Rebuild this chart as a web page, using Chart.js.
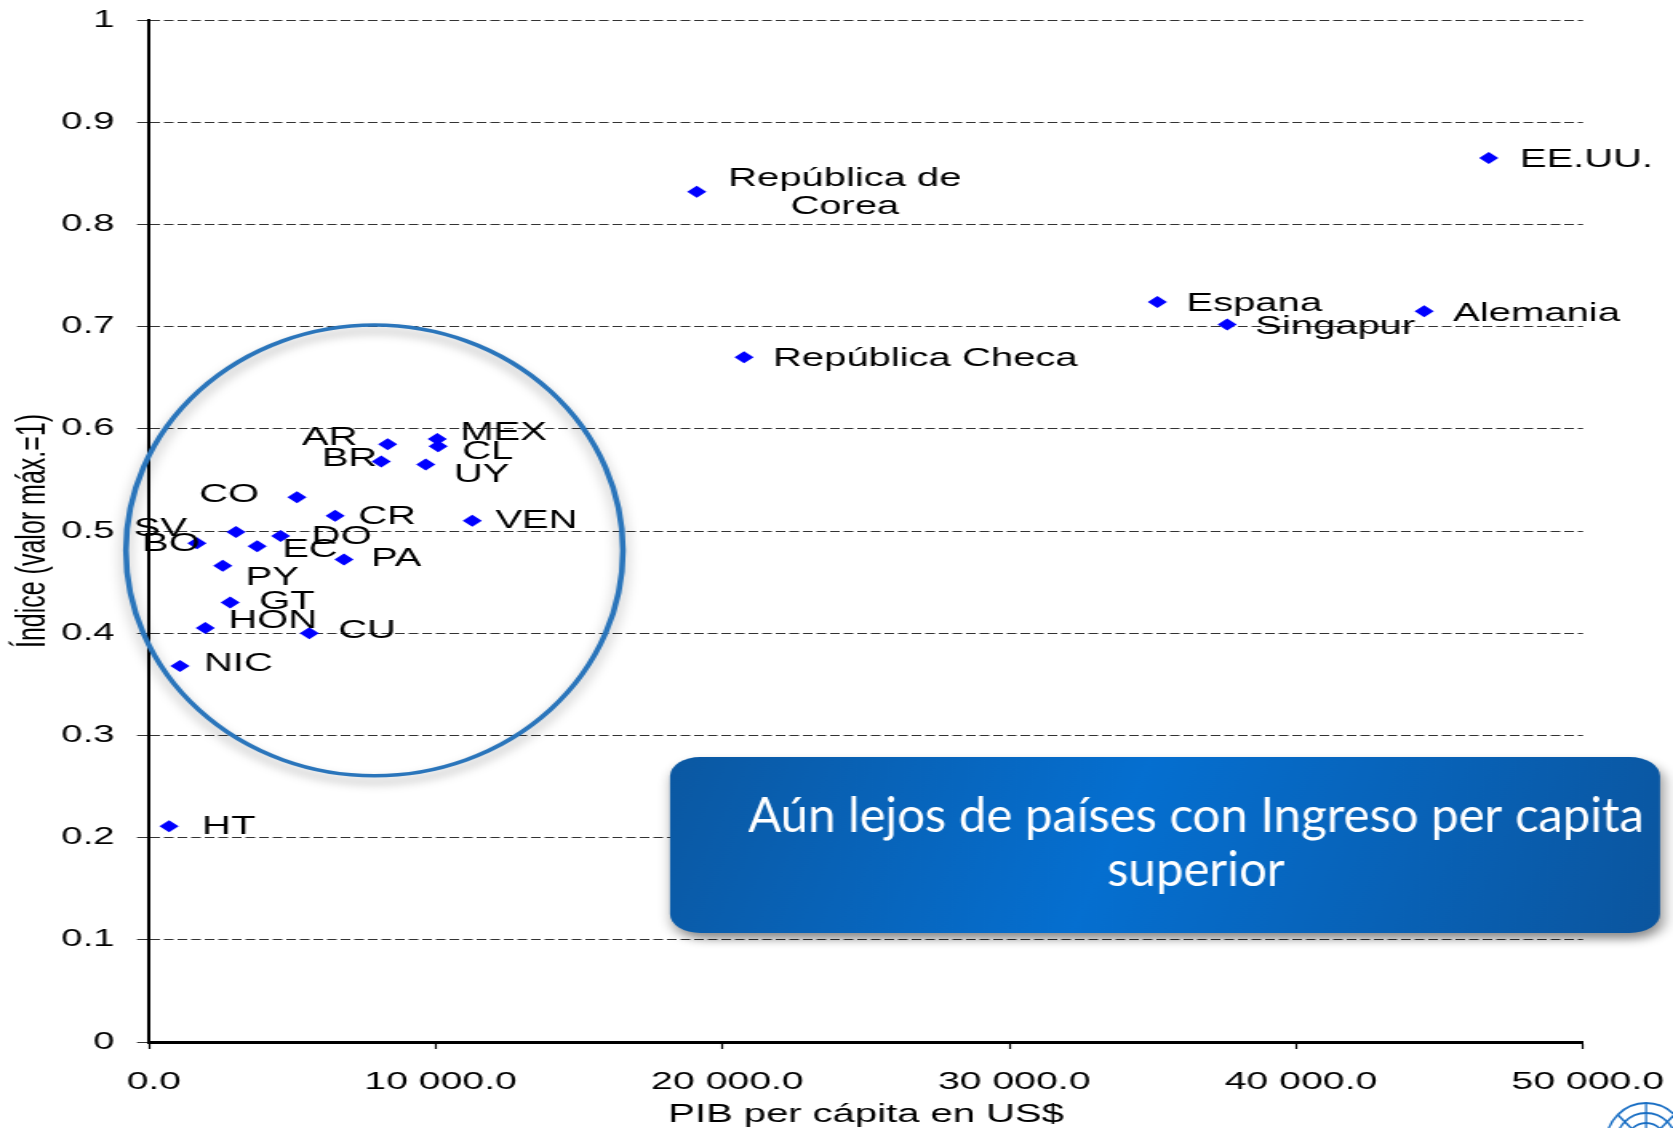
<!DOCTYPE html>
<html>
<head>
<meta charset="utf-8">
<script src="https://cdn.jsdelivr.net/npm/chart.js@4.4.1/dist/chart.umd.min.js"></script>
<style>
html,body{margin:0;padding:0;background:#fff;overflow:hidden}
</style>
</head>
<body>
<canvas id="c" width="1046" height="1128" style="display:block;width:1673px;height:1128px"></canvas>
<script>
// ---------------- DATA ----------------
const countries = ['EE.UU.','República de Corea','Espana','Singapur','Alemania','República Checa',
  'MEX','CL','AR','BR','UY','CO','CR','VEN','SV','DO','BO','EC','PA','PY','GT','HON','CU','NIC','HT'];
const pibPerCapita = [46715,19100,35160,37594,44463,20746,
  10050,10080,8320,8100,9650,5160,6490,11270,3030,4590,1670,3770,6800,2570,2830,1960,5590,1080,700];
const indice = [0.865,0.832,0.724,0.702,0.715,0.670,
  0.590,0.583,0.585,0.568,0.565,0.533,0.515,0.510,0.499,0.495,0.488,0.485,0.472,0.466,0.430,0.405,0.400,0.368,0.211];
const xTickLabels = ['0.0','10 000.0','20 000.0','30 000.0','40 000.0','50 000.0'];
const yTickLabels = ['0','0.1','0.2','0.3','0.4','0.5','0.6','0.7','0.8','0.9','1'];
const xAxisTitle = 'PIB per cápita en US$';
const yAxisTitle = 'Índice (valor máx.=1)';
const calloutLines = ['Aún lejos de países con Ingreso per capita','superior'];

// ---------------- LAYOUT / STYLE ----------------
const S = 1673 / 1046; // horizontal stretch of the picture
const FONT = '"Liberation Sans", Arial, sans-serif';

// label placement: align, dx (screen px), dy (px)
const labelPlacement = {
  'EE.UU.': ['left', 31, 2],
  'República de Corea': ['center', 148, -13, ['República de','Corea'], 28],
  'Espana': ['left', 29, 2],
  'Singapur': ['left', 28, 3],
  'Alemania': ['left', 29, 3],
  'República Checa': ['left', 29, 2],
  'MEX': ['left', 23, -6],
  'CL': ['left', 24, 6],
  'AR': ['right', -30, -6],
  'BR': ['right', -4, -2],
  'UY': ['left', 28, 11],
  'CO': ['right', -38, -2],
  'CR': ['left', 23, 1],
  'VEN': ['left', 23, 0],
  'SV': ['right', -49, -3],
  'DO': ['left', 31, 1],
  'BO': ['right', 3, 1],
  'EC': ['left', 25, 4],
  'PA': ['left', 27, -1],
  'PY': ['left', 23, 12],
  'GT': ['left', 29, 0],
  'HON': ['left', 23, -7],
  'CU': ['left', 29, -2],
  'NIC': ['left', 24, -2],
  'HT': ['left', 33, 1]
};

const pointLabels = {
  id: 'pointLabels',
  afterDatasetsDraw(chart) {
    const ctx = chart.ctx;
    const meta = chart.getDatasetMeta(0);
    ctx.save();
    ctx.font = '25px ' + FONT;
    ctx.fillStyle = '#000';
    ctx.textBaseline = 'middle';
    meta.data.forEach((pt, i) => {
      const name = countries[i];
      const p = labelPlacement[name];
      const lines = p[3] || [name];
      ctx.textAlign = p[0];
      lines.forEach((ln, k) => ctx.fillText(ln, pt.x + p[1] / S, pt.y + p[2] + k * (p[4] || 0)));
    });
    ctx.restore();
  }
};

const highlightEllipse = {
  id: 'highlightEllipse',
  beforeDatasetsDraw(chart) {
    const ctx = chart.ctx, xs = chart.scales.x, ys = chart.scales.y;
    const c = {x: 7860, y: 0.481}, r = {x: 8665, y: 0.2205};
    const cx = xs.getPixelForValue(c.x), cy = ys.getPixelForValue(c.y);
    const rx = Math.abs(xs.getPixelForValue(c.x + r.x) - cx);
    const ry = Math.abs(ys.getPixelForValue(c.y + r.y) - cy);
    ctx.save();
    ctx.shadowColor = 'rgba(0,0,0,0.35)';
    ctx.shadowBlur = 10;
    ctx.shadowOffsetY = 6;
    ctx.lineWidth = 3.6;
    ctx.strokeStyle = '#2a75bb';
    ctx.beginPath();
    ctx.ellipse(cx, cy, rx, ry, 0, 0, Math.PI * 2);
    ctx.stroke();
    ctx.restore();
  }
};

const callout = {
  id: 'callout',
  afterDraw(chart) {
    const ctx = chart.ctx;
    const x1 = 670 / S, x2 = 1660 / S, y1 = 757, y2 = 933;
    ctx.save();
    const g = ctx.createLinearGradient(x1, y1, x2, y2);
    g.addColorStop(0, '#0b58a2');
    g.addColorStop(0.45, '#056fd0');
    g.addColorStop(1, '#0b559e');
    ctx.shadowColor = 'rgba(0,0,0,0.45)';
    ctx.shadowBlur = 10;
    ctx.shadowOffsetX = 2;
    ctx.shadowOffsetY = 6;
    ctx.fillStyle = g;
    ctx.beginPath();
    ctx.roundRect(x1, y1, x2 - x1, y2 - y1, 19);
    ctx.fill();
    ctx.restore();

    ctx.save();
    ctx.font = '48px Lato, "Open Sans", sans-serif';
    ctx.fillStyle = '#fff';
    ctx.textAlign = 'center';
    ctx.textBaseline = 'alphabetic';
    const w = ctx.measureText(calloutLines[0]).width;
    const k = (896 / S) / w;
    const cx = 1196 / S;
    ctx.translate(cx, 0);
    ctx.scale(k, 1);
    ctx.fillText(calloutLines[0], 0, 832);
    ctx.fillText(calloutLines[1], 0, 886);
    ctx.restore();

    // emblem (bottom-right corner, partly cut)
    ctx.save();
    ctx.scale(1 / S, 1);
    ctx.strokeStyle = '#1a6fc4';
    ctx.lineWidth = 2;
    const ex = 1646, ey = 1143;
    [40, 30, 20, 10].forEach(rr => { ctx.beginPath(); ctx.arc(ex, ey, rr, 0, Math.PI * 2); ctx.stroke(); });
    for (let a = 0; a < 8; a++) {
      const t = a * Math.PI / 4;
      ctx.beginPath(); ctx.moveTo(ex, ey); ctx.lineTo(ex + 40 * Math.cos(t), ey + 40 * Math.sin(t)); ctx.stroke();
    }
    ctx.restore();
  }
};

new Chart(document.getElementById('c'), {
  type: 'scatter',
  data: {
    datasets: [{
      data: pibPerCapita.map((v, i) => ({x: v, y: indice[i]})),
      pointStyle: 'rectRot',
      pointRadius: 6,
      pointHoverRadius: 6,
      backgroundColor: '#0000ff',
      borderWidth: 0
    }]
  },
  options: {
    responsive: false,
    devicePixelRatio: 1,
    animation: false,
    events: [],
    layout: {padding: {top: 20, right: 1046 - 1583 / S, left: 0, bottom: 0}},
    plugins: {legend: {display: false}, tooltip: {enabled: false}},
    scales: {
      x: {
        type: 'linear', min: 0, max: 50000,
        afterFit(s) { s.height = 86; s.paddingLeft = 0; s.paddingRight = 0; },
        ticks: {
          stepSize: 10000, padding: 19, labelOffset: 3, color: '#000',
          font: {family: FONT, size: 24.5},
          callback: (v, i) => xTickLabels[i]
        },
        grid: {display: true, drawOnChartArea: false, drawTicks: true, tickLength: 7, tickColor: '#000', tickWidth: 1.2},
        border: {display: true, color: '#000', width: 3},
        title: {display: true, text: xAxisTitle, color: '#000', font: {family: FONT, size: 25}, padding: {top: 0, bottom: -2}}
      },
      y: {
        type: 'linear', min: 0, max: 1,
        afterFit(s) { s.width = 149 / S; s.paddingTop = 0; s.paddingBottom = 0; },
        ticks: {
          stepSize: 0.1, padding: 14, color: '#000',
          font: {family: FONT, size: 24},
          callback: (v, i) => yTickLabels[i]
        },
        grid: {display: true, color: '#333', lineWidth: 1, drawTicks: true, tickLength: 7.5, tickColor: '#333', tickWidth: 1},
        border: {display: true, color: '#000', width: 2, dash: [6, 2.5]},
        title: {display: true, text: yAxisTitle, color: '#000', font: {family: FONT, size: 25}, padding: {top: 6, bottom: 0}}
      }
    }
  },
  plugins: [highlightEllipse, pointLabels, callout]
});
</script>
</body>
</html>
